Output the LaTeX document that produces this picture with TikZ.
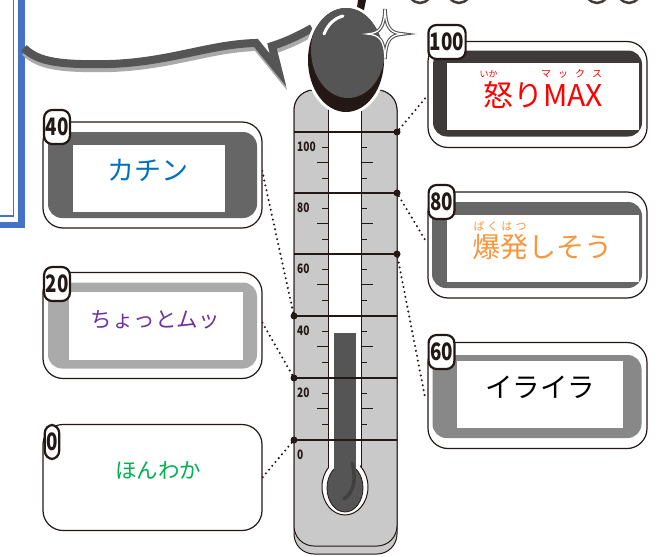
\documentclass[tikz,border=0pt]{standalone}
\usepackage{fontspec, graphicx}
\setmainfont{Noto Sans CJK JP}
\usetikzlibrary{positioning}
\definecolor{ink}{HTML}{231815}
\definecolor{darkfill}{HTML}{3E3A39}
\definecolor{midfill}{HTML}{666666}
\definecolor{greyfill}{HTML}{888888}
\definecolor{lightfill}{HTML}{AAAAAA}
\definecolor{bodygrey}{HTML}{C9C9C9}
\definecolor{mercury}{HTML}{555555}
\definecolor{framebl}{HTML}{4472C4}
\definecolor{katblue}{HTML}{0070C0}
\definecolor{mupurple}{HTML}{7030A0}
\definecolor{hongreen}{HTML}{00B050}
\definecolor{maxred}{HTML}{FF0000}
\definecolor{bakorange}{HTML}{F7963C}
\newcommand{\narrow}[1]{\scalebox{0.78}[1]{#1}}
\tikzstyle{frame} = [rectangle, rounded corners=20pt, draw=ink, line width=1.2pt, fill=white, minimum width=219pt, minimum height=106pt, inner sep=0pt]
\tikzstyle{band} = [rectangle, rounded corners=14pt, minimum width=209pt, minimum height=86pt, inner sep=0pt]
\tikzstyle{window} = [rectangle, fill=white, inner sep=0pt, minimum height=67pt]
\tikzstyle{word} = [inner sep=0pt]
\tikzstyle{badge} = [rectangle, rounded corners=8pt, draw=ink, line width=2.2pt, fill=white, inner sep=1.5pt, minimum height=34pt, text=ink, font=\bfseries\fontsize{24}{25}\selectfont]
\tikzstyle{dot} = [circle, fill=ink, inner sep=0pt, minimum size=7pt]
\tikzstyle{leader} = [ink, line width=2.3pt, dash pattern=on 0pt off 5pt, line cap=round]
\tikzstyle{gaugenum} = [anchor=west, inner sep=0pt, text=ink, font=\bfseries\fontsize{13}{14}\selectfont]
\tikzstyle{tick} = [ink, line width=1pt]

\begin{document}
\begin{tikzpicture}[x=1pt, y=-1pt]
    \useasboundingbox (0,0) rectangle (662,557);

    \foreach \cx in {420,459,597,629}
        \draw[ink!85, line width=2.5pt] (\cx,-14) ellipse [x radius=13, y radius=17];

    \draw[framebl, line width=1.6pt] (0,216) -- (13.5,216) -- (13.5,-2);
    \draw[framebl, line width=6.5pt] (0,225) -- (21.5,225) -- (21.5,-2);

    \draw[lightfill, line width=8pt, shift={(1,4)}] (24,48) .. controls (38,62) and (60,65) .. (110,64) .. controls (170,62) and (210,44) .. (256,43) -- (278,70) -- (272,46) .. controls (285,42) and (298,36) .. (312,28);
    \draw[mercury, line width=8pt] (24,48) .. controls (38,62) and (60,65) .. (110,64) .. controls (170,62) and (210,44) .. (256,43) -- (278,70) -- (272,46) .. controls (285,42) and (298,36) .. (312,28);

    \draw[ink, fill=bodygrey, line width=1pt, rounded corners=20pt] (294,90) rectangle (397,554);
    \draw[ink, fill=bodygrey, line width=1pt, rounded corners=20pt] (294,90) rectangle (397,546);

    \draw[ink, fill=white, line width=1pt] (328,95) rectangle (361,470);
    \draw[ink, fill=white, line width=1pt] (345,487) ellipse [x radius=23, y radius=28];
    \fill[white] (329,440) rectangle (360,475);
    \draw[ink, fill=mercury, line width=0.8pt] (345,488) ellipse [x radius=18, y radius=24];
    \fill[mercury] (334,333) rectangle (356,475);
    \draw[black!75, line width=3.5pt, line cap=round] (352,463) .. controls (357,480) and (353,493) .. (344,499);

    \foreach \y in {132,193,254,316,378,440}
        \draw[ink, line width=1.1pt] (294,\y) -- (397,\y);
    \foreach \y in {132,193,254,316,378} {
        \draw[tick] (322,\y+15.4) -- (328,\y+15.4);
        \draw[tick] (317,\y+30.8) -- (328,\y+30.8);
        \draw[tick] (322,\y+46.2) -- (328,\y+46.2);
        \draw[tick] (361,\y+15.4) -- (367,\y+15.4);
        \draw[tick] (361,\y+30.8) -- (373,\y+30.8);
        \draw[tick] (361,\y+46.2) -- (367,\y+46.2);
    }
    \foreach \y/\v in {132/100,193/80,254/60,316/40,378/20,440/0}
        \node[gaugenum] (n\v) at (297,\y+14.5) {\narrow{\v}};

    \node[dot] (d100) at (397,132) {};
    \node[dot] (d80) at (397,193) {};
    \node[dot] (d60) at (397,254) {};
    \node[dot] (d40) at (294,316) {};
    \node[dot] (d20) at (294,378) {};
    \node[dot] (d0) at (294,440) {};

    \fill[ink] (356,15) -- (358,0) -- (366,0) -- (363,15) -- cycle;
    \fill[white] (346,60) ellipse [x radius=41, y radius=55];
    \fill[ink] (346,60) ellipse [x radius=38, y radius=52];
    \begin{scope}
        \clip (346,60) ellipse [x radius=38, y radius=52];
        \fill[mercury] (348,50) ellipse [x radius=37, y radius=48];
    \end{scope}
    \draw[white, line width=3pt, line cap=round] (324,34) .. controls (328,24) and (335,18) .. (343,16);

    \draw[mercury, line width=3.5pt] (385,9) .. controls (386,28) and (390,33) .. (403,34) .. controls (390,35) and (386,40) .. (385,59) .. controls (384,40) and (380,35) .. (367,34) .. controls (380,33) and (384,28) .. (385,9) -- cycle;
    \draw[white, line width=1.3pt] (385,9) .. controls (386,28) and (390,33) .. (403,34) .. controls (390,35) and (386,40) .. (385,59) .. controls (384,40) and (380,35) .. (367,34) .. controls (380,33) and (384,28) .. (385,9) -- cycle;

    \draw[leader] (d100) -- (428,95);
    \draw[leader] (d80) -- (427,243);
    \draw[leader] (d60) -- (425,397);
    \draw[leader] (d40) -- (262,170);
    \draw[leader] (d20) -- (262,322);
    \draw[leader] (d0) -- (262,478);

    \node[frame] (box100) at (537.5,94.5) {};
    \node[band, fill=darkfill] (band100) at (537.5,93.5) {};
    \node[window, minimum width=192pt] (win100) at (543,96.5) {};
    \node[word, text=maxred, font=\fontsize{30}{32}\selectfont] (lbl100) at (543,94.5) {怒りMAX};
    \node[word, text=maxred, font=\fontsize{9}{10}\selectfont] (rb100a) at (488.5,74) {いか};
    \node[word, text=maxred, font=\fontsize{10}{11}\selectfont] (rb100b) at (571.5,74) {マ\hspace{7pt}ッ\hspace{7pt}ク\hspace{7pt}ス};

    \node[frame] (box80) at (537.5,245) {};
    \node[band, fill=midfill, minimum width=210pt] (band80) at (537,245) {};
    \node[window, minimum width=192pt] (win80) at (543,248.5) {};
    \node[word, text=bakorange, font=\fontsize{28}{30}\selectfont] (lbl80) at (542.5,246.5) {爆発しそう};
    \node[word, text=bakorange, font=\fontsize{11}{12}\selectfont] (rb80) at (500,226) {ば\hspace{3pt}く\hspace{3pt}は\hspace{3pt}つ};

    \node[frame] (box60) at (537.5,395.5) {};
    \node[band, fill=greyfill, minimum height=83pt] (band60) at (537,396.5) {};
    \node[window, minimum width=166pt] (win60) at (540,394.5) {};
    \node[word, text=black, font=\fontsize{27.5}{30}\selectfont] (lbl60) at (540,387.5) {イライラ};

    \node[frame] (box40) at (152.5,175) {};
    \node[band, fill=midfill] (band40) at (152.5,175) {};
    \node[window, minimum width=152pt] (win40) at (149,178.5) {};
    \node[word, text=katblue, font=\fontsize{27}{30}\selectfont] (lbl40) at (148,170) {カチン};

    \node[frame] (box20) at (152.5,325.5) {};
    \node[band, fill=lightfill] (band20) at (152.5,325.5) {};
    \node[window, minimum width=174pt, minimum height=68pt] (win20) at (156,326) {};
    \node[word, text=mupurple, font=\fontsize{21.5}{24}\selectfont] (lbl20) at (155,320) {ちょっとムッ};

    \node[frame] (box0) at (152.5,477.5) {};
    \node[word, text=hongreen, font=\fontsize{21.5}{24}\selectfont] (lbl0) at (158,470) {ほんわか};

    \node[badge] (tag100) at (447,42) {\narrow{100}};
    \node[badge] (tag80) at (441.5,202) {\narrow{80}};
    \node[badge] (tag60) at (441.5,352) {\narrow{60}};
    \node[badge] (tag40) at (57,127) {\narrow{40}};
    \node[badge] (tag20) at (57,284) {\narrow{20}};
    \node[badge] (tag0) at (52,442) {\narrow{0}};
\end{tikzpicture}
\end{document}
